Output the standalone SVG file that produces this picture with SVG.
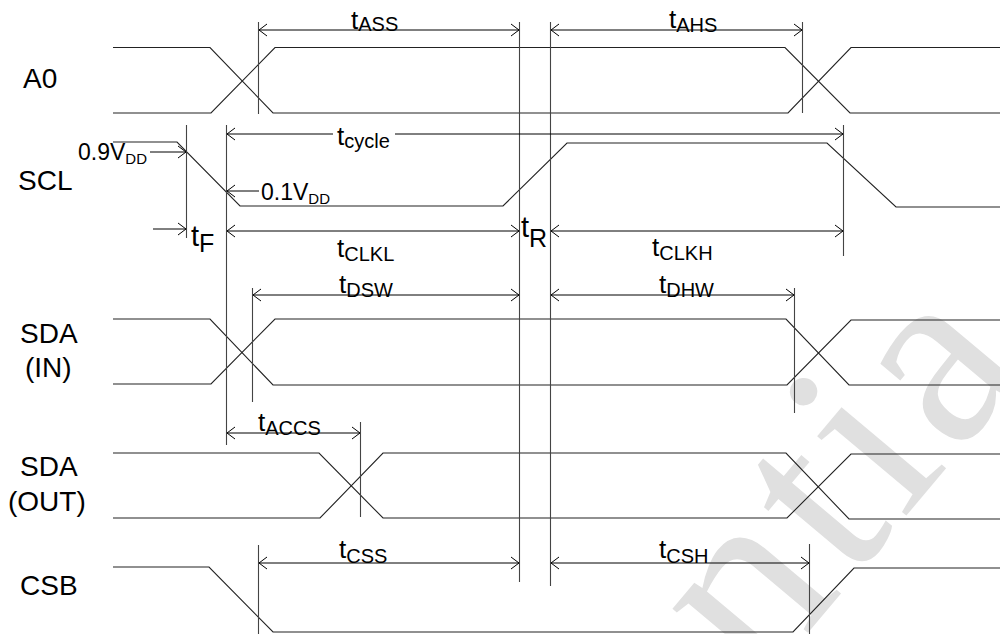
<svg xmlns="http://www.w3.org/2000/svg" width="1000" height="634" viewBox="0 0 1000 634">
<style>
.wave{fill:none;stroke:#222;stroke-width:1.1}
.vl{fill:none;stroke:#444;stroke-width:1.1}
.dim{fill:none;stroke:#000;stroke-width:1}
.lbl{font-family:"Liberation Sans",Arial,sans-serif;font-size:28px;fill:#000}
.t{font-family:"Liberation Sans",Arial,sans-serif;font-size:26px;fill:#000}
.t .s{font-size:20px}
.tb{font-family:"Liberation Sans",Arial,sans-serif;font-size:29px;fill:#000}
.tb .s{font-size:25px}
.v{font-family:"Liberation Sans",Arial,sans-serif;font-size:23px;fill:#000}
.v .s{font-size:15px}
.wm{font-family:"Liberation Serif","Times New Roman",serif;font-size:260px;letter-spacing:10px;fill:#e0e0e0}
</style>
<defs>
<marker id="ah" markerWidth="10" markerHeight="14" refX="9" refY="7" orient="auto-start-reverse" markerUnits="userSpaceOnUse">
<path d="M1,1 L9,7 L1,13" fill="none" stroke="#000" stroke-width="1"/>
</marker>
</defs>
<rect width="1000" height="634" fill="#fff"/>
<g id="watermark">
<text class="wm" transform="translate(760,690) rotate(-50)">ntia</text>
</g>
<g id="A0">
<text class="lbl" x="23" y="88">A0</text>
<path class="wave" d="M113,47.5 H210 L273,113 H788 L851,47.5 H1000"/>
<path class="wave" d="M113,113 H211 L275,47.5 H785 L850,113 H1000"/>
</g>
<g id="SCL">
<text class="lbl" x="18" y="190">SCL</text>
<path class="wave" d="M113,142 H177 L240,206 H503 L567,143 H827 L896,207 H1000"/>
<text class="v" x="78" y="160">0.9V<tspan class="s" dy="4">DD</tspan></text>
<text class="v" x="261" y="200">0.1V<tspan class="s" dy="4">DD</tspan></text>
</g>
<g id="SDA_IN">
<text class="lbl" x="20" y="343">SDA</text>
<text class="lbl" x="25" y="377">(IN)</text>
<path class="wave" d="M113,319 H210 L273,385 H787 L851,320 H1000"/>
<path class="wave" d="M113,384 H211 L275,319 H786 L849,385 H1000"/>
</g>
<g id="SDA_OUT">
<text class="lbl" x="20" y="476">SDA</text>
<text class="lbl" x="8" y="511">(OUT)</text>
<path class="wave" d="M113,453 H319 L383,518 H787 L851,454 H1000"/>
<path class="wave" d="M113,518 H320 L383,453 H786 L849,519 H1000"/>
</g>
<g id="CSB">
<text class="lbl" x="20" y="595">CSB</text>
<path class="wave" d="M113,567 H209 L273,632 H793 L854,568 H1000"/>
</g>
<g id="connectors">
<path class="vl" d="M258.5,22 V114 M519.5,22 V582 M550.5,22 V586 M802.5,22 V113 M186.5,125 V238 M226.5,125 V445 M843.5,125 V256 M252.5,288 V402 M794.5,288 V413 M360.5,422 V517 M258.5,545 V634 M809.5,544 V634"/>
<line class="dim" x1="259" y1="30" x2="519" y2="30" marker-start="url(#ah)" marker-end="url(#ah)"/>
<line class="dim" x1="551" y1="30" x2="802" y2="30" marker-start="url(#ah)" marker-end="url(#ah)"/>
<line class="dim" x1="150" y1="152" x2="186" y2="152" marker-end="url(#ah)"/>
<line class="dim" x1="153" y1="229" x2="186" y2="229" marker-end="url(#ah)"/>
<line class="dim" x1="227" y1="134" x2="333" y2="134" marker-start="url(#ah)"/>
<line class="dim" x1="395" y1="134" x2="843" y2="134" marker-end="url(#ah)"/>
<line class="dim" x1="259" y1="191" x2="227" y2="191" marker-end="url(#ah)"/>
<line class="dim" x1="227" y1="231" x2="519" y2="231" marker-start="url(#ah)" marker-end="url(#ah)"/>
<line class="dim" x1="551" y1="231" x2="843" y2="231" marker-start="url(#ah)" marker-end="url(#ah)"/>
<line class="dim" x1="253" y1="295" x2="519" y2="295" marker-start="url(#ah)" marker-end="url(#ah)"/>
<line class="dim" x1="551" y1="295" x2="794" y2="295" marker-start="url(#ah)" marker-end="url(#ah)"/>
<line class="dim" x1="227" y1="433" x2="360" y2="433" marker-start="url(#ah)" marker-end="url(#ah)"/>
<line class="dim" x1="259" y1="563" x2="519" y2="563" marker-start="url(#ah)" marker-end="url(#ah)"/>
<line class="dim" x1="551" y1="563" x2="809" y2="563" marker-start="url(#ah)" marker-end="url(#ah)"/>
</g>
<g id="labels">
<text class="t" x="351" y="29">t<tspan class="s" dy="2">ASS</tspan></text>
<text class="t" x="669" y="28">t<tspan class="s" dy="4">AHS</tspan></text>
<text class="t" x="337" y="145">t<tspan class="s" dy="3">cycle</tspan></text>
<text class="tb" x="191" y="246">t<tspan class="s" dy="6">F</tspan></text>
<text class="t" x="337" y="257">t<tspan class="s" dy="4">CLKL</tspan></text>
<text class="tb" x="521" y="237">t<tspan class="s" dy="10">R</tspan></text>
<text class="t" x="652" y="256">t<tspan class="s" dy="4">CLKH</tspan></text>
<text class="t" x="339" y="293">t<tspan class="s" dy="4">DSW</tspan></text>
<text class="t" x="659" y="293">t<tspan class="s" dy="4">DHW</tspan></text>
<text class="t" x="258" y="431">t<tspan class="s" dy="4">ACCS</tspan></text>
<text class="t" x="339" y="558">t<tspan class="s" dy="5">CSS</tspan></text>
<text class="t" x="659" y="558">t<tspan class="s" dy="5">CSH</tspan></text>
</g>
</svg>
